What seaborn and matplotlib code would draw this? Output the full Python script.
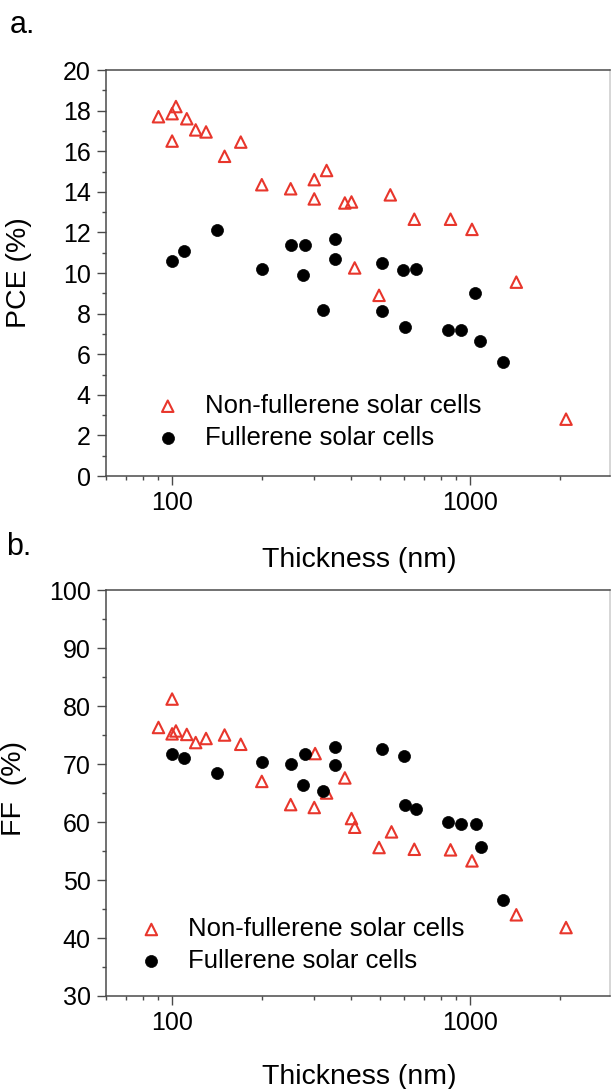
import pandas as pd
import seaborn as sns
import matplotlib.pyplot as plt
from matplotlib.ticker import LogLocator, FixedLocator, FuncFormatter, NullFormatter, MultipleLocator

# DATA
# a. PCE vs thickness
nf_thick_pce = [90, 100, 103, 100, 112, 120, 130, 150, 170, 200, 250, 300, 330, 300,
                380, 400, 410, 495, 540, 650, 860, 1015, 1430, 2100]
nf_pce = [17.7, 17.85, 18.2, 16.5, 17.6, 17.05, 16.95, 15.75, 16.45, 14.35, 14.15, 14.6,
          15.05, 13.65, 13.45, 13.5, 10.25, 8.9, 13.85, 12.65, 12.65, 12.15, 9.55, 2.8]
f_thick_pce = [100, 110, 141, 200, 250, 279, 275, 321, 351, 351, 506, 506, 595, 607,
               658, 844, 935, 1042, 1084, 1293]
f_pce = [10.6, 11.1, 12.1, 10.2, 11.4, 11.4, 9.9, 8.2, 11.7, 10.7, 10.5, 8.15, 10.15,
         7.35, 10.2, 7.2, 7.2, 9.0, 6.65, 5.6]

# b. FF vs thickness
nf_thick_ff = [90, 100, 100, 103, 112, 120, 130, 150, 170, 200, 250, 302, 300, 330,
               380, 400, 410, 495, 545, 650, 860, 1015, 1430, 2100]
nf_ff = [76.3, 81.2, 75.2, 75.7, 75.1, 73.7, 74.4, 75.0, 73.4, 67.0, 63.0, 71.8, 62.5,
         65.0, 67.6, 60.6, 59.1, 55.6, 58.3, 55.3, 55.2, 53.3, 44.0, 41.8]
f_thick_ff = [100, 110, 141, 200, 250, 279, 275, 321, 351, 351, 506, 598, 607, 658,
              844, 935, 1045, 1090, 1293]
f_ff = [71.8, 71.0, 68.5, 70.3, 70.0, 71.8, 66.4, 65.3, 72.9, 69.8, 72.6, 71.4, 63.0,
        62.3, 60.0, 59.6, 59.6, 55.7, 46.6]

nf_label = 'Non-fullerene solar cells'
f_label = 'Fullerene solar cells'

RED = '#E8362C'
SPINE = '#4a4a4a'

sns.set_theme(style="ticks")
plt.rcParams['font.family'] = ['Liberation Sans', 'DejaVu Sans']
plt.rcParams['text.color'] = 'black'
plt.rcParams['axes.labelcolor'] = 'black'

fig = plt.figure(figsize=(6.11, 10.89), dpi=100)
ax_a = fig.add_axes([0.1735, 0.5629, 0.8249, 0.3728])
ax_b = fig.add_axes([0.1735, 0.0854, 0.8249, 0.3728])


def draw_panel(ax, nf_x, nf_y, f_x, f_y):
    nf_df = pd.DataFrame({'thickness': nf_x, 'value': nf_y})
    f_df = pd.DataFrame({'thickness': f_x, 'value': f_y})
    sns.scatterplot(data=nf_df, x='thickness', y='value', ax=ax, marker='^', s=68,
                    color=RED, facecolor='none', edgecolor=RED, linewidth=1.5,
                    label=nf_label, zorder=3)
    sns.scatterplot(data=f_df, x='thickness', y='value', ax=ax, marker='o', s=75,
                    color='black', edgecolor='black', linewidth=0.5,
                    label=f_label, zorder=4)
    ax.set_xscale('log')
    ax.set_xlim(60, 2950)
    ax.xaxis.set_major_locator(FixedLocator([100, 1000]))
    ax.xaxis.set_major_formatter(FuncFormatter(lambda v, p: f'{v:.0f}'))
    ax.xaxis.set_minor_locator(LogLocator(base=10, subs=range(2, 10)))
    ax.xaxis.set_minor_formatter(NullFormatter())
    for side in ['left', 'bottom', 'top', 'right']:
        ax.spines[side].set_color(SPINE)
        ax.spines[side].set_linewidth(1.1)
    ax.spines['right'].set_color('#cccccc')
    ax.tick_params(which='major', length=6.5, width=1.0, color=SPINE,
                   labelsize=18, pad=4.5, labelcolor='black')
    ax.tick_params(which='minor', length=3.2, width=1.0, color=SPINE)
    ax.tick_params(top=False, right=False, which='both')
    ax.set_xlabel('Thickness (nm)', fontsize=20.5)


draw_panel(ax_a, nf_thick_pce, nf_pce, f_thick_pce, f_pce)
draw_panel(ax_b, nf_thick_ff, nf_ff, f_thick_ff, f_ff)

ax_a.set_ylim(0, 20)
ax_a.yaxis.set_major_locator(MultipleLocator(2))
ax_a.yaxis.set_minor_locator(MultipleLocator(1))
ax_a.set_ylabel('PCE (%)', fontsize=20.5)
ax_a.yaxis.set_label_coords(-0.147, 0.5)
ax_a.xaxis.set_label_coords(0.503, -0.207)
ax_a.xaxis.label.set_verticalalignment('center')

ax_b.set_ylim(30, 100)
ax_b.yaxis.set_major_locator(MultipleLocator(10))
ax_b.yaxis.set_minor_locator(MultipleLocator(5))
ax_b.set_ylabel('FF  (%)', fontsize=20.5)
ax_b.yaxis.set_label_coords(-0.157, 0.51)
ax_b.xaxis.set_label_coords(0.503, -0.2)
ax_b.xaxis.label.set_verticalalignment('center')

# legends
for ax, anchor in [(ax_a, (0.097, 0.1335)), (ax_b, (0.0645, 0.1254))]:
    leg = ax.legend(loc='center left', bbox_to_anchor=anchor, frameon=False,
                    fontsize=18.5, handlelength=1.0, handletextpad=0.94,
                    labelspacing=0.3, borderpad=0, borderaxespad=0)
    for t in leg.get_texts():
        t.set_color('black')

fig.text(0.016, 0.9697, 'a.', fontsize=22, va='baseline', ha='left')
fig.text(0.010, 0.4904, 'b.', fontsize=22, va='baseline', ha='left')

plt.savefig('out.png', dpi=100)
